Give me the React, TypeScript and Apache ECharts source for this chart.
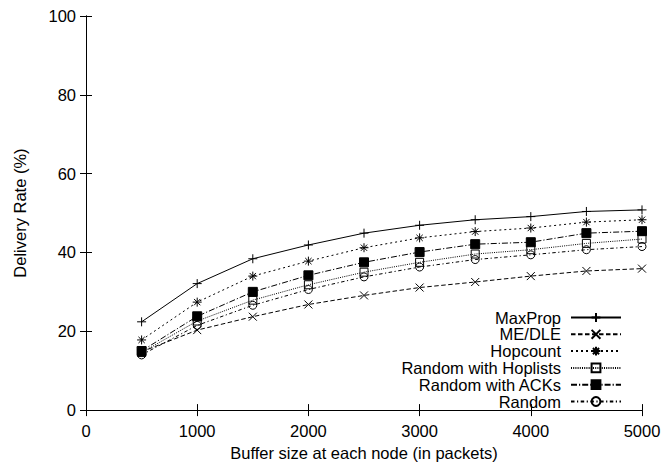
import React, { useEffect, useRef } from "react";
import * as echarts from "echarts";

const bufferSizes = [500, 1000, 1500, 2000, 2500, 3000, 3500, 4000, 4500, 5000];
const maxProp = [22.4, 32.1, 38.4, 41.9, 44.9, 46.9, 48.3, 49.1, 50.4, 50.8];
const meDle = [14.8, 20.3, 23.7, 26.8, 29.1, 31.1, 32.5, 34.0, 35.3, 35.9];
const hopcount = [17.8, 27.4, 34.0, 37.8, 41.2, 43.7, 45.3, 46.2, 47.7, 48.3];
const hoplists = [14.6, 22.6, 27.9, 31.8, 35.0, 37.5, 39.6, 40.7, 42.3, 43.4];
const acks = [15.0, 23.8, 30.0, 34.2, 37.5, 40.1, 42.1, 42.6, 44.9, 45.4];
const randomVals = [14.0, 21.5, 26.6, 30.6, 33.8, 36.3, 38.2, 39.4, 40.7, 41.5];

const FONT = "'Liberation Sans', Arial, Helvetica, sans-serif";

const PLUS = "path://M5 0 L5 10 M0 5 L10 5";
const CROSS = "path://M0 0 L10 10 M0 10 L10 0";
const STAR = "path://M5 0 L5 10 M0 5 L10 5 M1.5 1.5 L8.5 8.5 M1.5 8.5 L8.5 1.5";

type SDef = {
  name: string;
  values: number[];
  symbol: string;
  size: number;
  fill: string;
  dash: number[] | "solid";
};

const seriesDefs: SDef[] = [
  { name: "MaxProp", values: maxProp, symbol: PLUS, size: 9, fill: "none", dash: "solid" },
  { name: "ME/DLE", values: meDle, symbol: CROSS, size: 8, fill: "none", dash: [4.5, 2.5] },
  { name: "Hopcount", values: hopcount, symbol: STAR, size: 9, fill: "none", dash: [2, 3] },
  { name: "Random with Hoplists", values: hoplists, symbol: "rect", size: 8, fill: "none", dash: [1, 1.2] },
  { name: "Random with ACKs", values: acks, symbol: "rect", size: 9, fill: "#000", dash: [6, 2, 1.2, 2] },
  { name: "Random", values: randomVals, symbol: "circle", size: 8, fill: "none", dash: [3.5, 2.5, 1.2, 2.5] },
];

export default function App() {
  const ref = useRef<HTMLDivElement>(null);
  useEffect(() => {
    if (!ref.current) return;
    const chart = echarts.init(ref.current, undefined, { renderer: "svg" });
    const axisLine = { show: true, lineStyle: { color: "#000", width: 1 } };
    const option: any = {
      animation: false,
      backgroundColor: "#fff",
      textStyle: { fontFamily: FONT },
      grid: { left: 86, right: 23, top: 16, bottom: 54 },
      legend: {
        orient: "vertical",
        right: 43,
        bottom: 56,
        align: "right",
        padding: 0,
        itemWidth: 50,
        itemHeight: 11,
        itemGap: -0.2,
        textStyle: { fontFamily: FONT, fontSize: 16.5, color: "#000", lineHeight: 17, padding: [0, 5, 0, 0] },
        data: seriesDefs.map((s) => s.name),
      },
      xAxis: [
        {
          type: "value",
          min: 0,
          max: 5000,
          interval: 1000,
          name: "Buffer size at each node (in packets)",
          nameLocation: "middle",
          nameGap: 33,
          nameTextStyle: { fontFamily: FONT, fontSize: 16.5, color: "#000" },
          axisLine,
          axisTick: { show: true, inside: true, length: 6, lineStyle: { color: "#000" } },
          axisLabel: {
            fontFamily: FONT,
            fontSize: 16.5,
            color: "#000",
            margin: 12,
            formatter: (v: number) => String(v),
          },
          splitLine: { show: false },
        },
        {
          type: "value",
          position: "top",
          min: 0,
          max: 5000,
          interval: 1000,
          axisLine,
          axisTick: { show: true, inside: true, length: 6, lineStyle: { color: "#000" } },
          axisLabel: { show: false },
          splitLine: { show: false },
        },
      ],
      yAxis: [
        {
          type: "value",
          min: 0,
          max: 100,
          interval: 20,
          name: "Delivery Rate (%)",
          nameLocation: "middle",
          nameGap: 58,
          nameTextStyle: { fontFamily: FONT, fontSize: 16.5, color: "#000" },
          axisLine,
          axisTick: { show: true, inside: true, length: 6, lineStyle: { color: "#000" } },
          axisLabel: { fontFamily: FONT, fontSize: 16.5, color: "#000", margin: 10 },
          splitLine: { show: false },
        },
        {
          type: "value",
          position: "right",
          min: 0,
          max: 100,
          interval: 20,
          axisLine,
          axisTick: { show: true, inside: true, length: 6, lineStyle: { color: "#000" } },
          axisLabel: { show: false },
          splitLine: { show: false },
        },
      ],
      series: seriesDefs.map((s) => ({
        name: s.name,
        type: "line",
        xAxisIndex: 0,
        yAxisIndex: 0,
        data: bufferSizes.map((x, i) => [x, s.values[i]]),
        symbol: s.symbol,
        symbolSize: s.size,
        showAllSymbol: true,
        color: "#000",
        lineStyle: { color: "#000", width: 1, type: s.dash },
        itemStyle: { color: s.fill, borderColor: "#000", borderWidth: 1 },
        emphasis: { disabled: true },
      })),
    };
    chart.setOption(option);
    return () => chart.dispose();
  }, []);
  return (
    <div
      ref={ref}
      style={{ position: "fixed", left: 0, top: 0, width: 665, height: 466, background: "#fff" }}
    />
  );
}
